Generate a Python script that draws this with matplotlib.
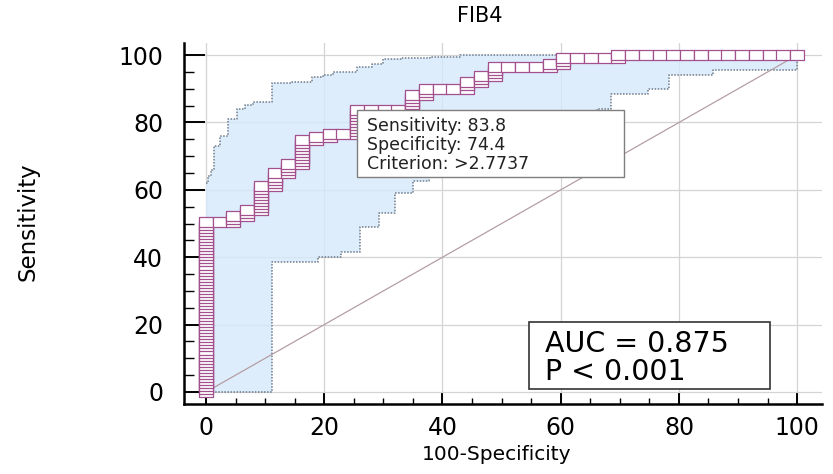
import matplotlib
matplotlib.use('Agg')
import matplotlib.pyplot as plt
from matplotlib import font_manager
from matplotlib.path import Path
from matplotlib.patches import Rectangle

# ROC data for FIB4: 111 positive cases, 43 negative cases
n_pos = 111
n_neg = 43
# cumulative true positives reached at each false-positive count 0..43
tp_top = [56, 56, 58, 60, 68, 72, 75, 83, 84, 85, 85, 93, 93, 93, 93, 98,
          100, 100, 100, 102, 104, 107, 107, 107, 107, 108, 110, 110, 110, 110,
          111, 111, 111, 111, 111, 111, 111, 111, 111, 111, 111, 111, 111, 111]

# confidence band corners (100-Specificity, Sensitivity)
upper_x = [0, 0.4, 0.8, 1.3, 2.4, 3.8, 5.2, 6.6, 8.0, 11.1, 14.5, 17.9, 19.8,
           21.5, 25.5, 28.0, 30.0, 33.0, 37.9, 43.0, 100]
upper_y = [62, 64, 66, 73, 76, 81, 84, 85.2, 86, 91.6, 92.1, 93.6, 94.1,
           95.0, 96.5, 97.5, 98.7, 99.2, 99.5, 100, 100]
lower_x = [0, 11.2, 19.0, 22.8, 26.1, 29.2, 32.0, 35.0, 37.8, 42, 46, 50, 54,
           58, 62, 66.1, 68.5, 74.7, 78.4, 85.8, 100]
lower_y = [0, 38.5, 40, 41.6, 49, 53, 59, 62.6, 64.5, 67, 70, 73, 76,
           79, 82, 84, 88.6, 89.9, 94.1, 95.5, 100]

sens_best = 83.8
spec_best = 74.4
criterion = '>2.7737'
auc = 0.875
p_text = 'P < 0.001'

ticks = [0, 20, 40, 60, 80, 100]


def stairs(xs, ys):
    sx, sy = [], []
    for i in range(len(xs)):
        sx.append(xs[i])
        sy.append(ys[i])
        if i + 1 < len(xs):
            sx.append(xs[i + 1])
            sy.append(ys[i])
    return sx, sy


# points of the ROC curve, one per case
roc_x, roc_y = [], []
prev = 0
for k, top in enumerate(tp_top):
    for t in range(prev, top + 1):
        roc_x.append(100 * k / n_neg)
        roc_y.append(100 * t / n_pos)
    prev = top

names = {f.name for f in font_manager.fontManager.ttflist}
if 'Liberation Sans Narrow' in names:
    ylab_font, ylab_size = 'Liberation Sans Narrow', 19
else:
    ylab_font, ylab_size = 'DejaVu Sans', 16.5

fig = plt.figure(figsize=(8.33, 4.74), dpi=100)
ax = fig.add_axes([0.2209, 0.1477, 0.7659, 0.7616])

# confidence band
lx, ly = stairs(lower_x, lower_y)
ux, uy = stairs(upper_x, upper_y)
poly_x = lx + ux[::-1] + [0]
poly_y = ly + uy[::-1] + [0]
ax.fill(poly_x, poly_y, color='#d6e9fb', alpha=0.8, lw=0, zorder=1)
ax.plot(ux, uy, color='#6d7c8c', lw=1.1, ls=(0, (1, 1)), zorder=2)
ax.plot(lx, ly, color='#6d7c8c', lw=1.1, ls=(0, (1, 1)), zorder=2)

# reference diagonal
ax.plot([0, 100], [0, 100], color='#b49ea4', lw=0.9, zorder=2)

# ROC curve
rect = Path([(-1, -0.69), (1, -0.69), (1, 0.69), (-1, 0.69), (-1, -0.69)], closed=True)
ax.plot(roc_x, roc_y, color='#a2508e', lw=0.8, marker=rect, markersize=9.9,
        markerfacecolor='white', markeredgecolor='#a2508e', markeredgewidth=0.9,
        zorder=3)

ax.set_xlim(-3.72, 104.2)
ax.set_ylim(-3.56, 103.6)
ax.set_xticks(ticks)
ax.set_yticks(ticks)
ax.set_xticks(range(0, 101, 5), minor=True)
ax.set_yticks(range(0, 101, 5), minor=True)
ax.grid(True, which='major', color='#d4d4d4', lw=0.9)
ax.set_axisbelow(True)

for s in ['top', 'right']:
    ax.spines[s].set_visible(False)
for s in ['left', 'bottom']:
    ax.spines[s].set_linewidth(1.8)

ax.tick_params(axis='y', which='major', direction='in', length=15, width=1.4,
               pad=15, labelsize=17)
ax.tick_params(axis='y', which='minor', direction='in', length=7, width=1.0)
ax.tick_params(axis='x', which='major', direction='in', length=8, width=1.4,
               pad=9, labelsize=17)
ax.tick_params(axis='x', which='minor', direction='in', length=4, width=1.0)

# optimal criterion box
ax.add_patch(Rectangle((25.5, 63.8), 45.2, 19.9, facecolor='white',
                       edgecolor='#7f7f7f', lw=1.0, zorder=4))
ax.text(27.3, 81.6,
        'Sensitivity: %.1f\nSpecificity: %.1f\nCriterion: %s' % (sens_best, spec_best, criterion),
        fontsize=12.5, va='top', ha='left', color='#222222', linespacing=1.08, zorder=5)

# AUC box
ax.add_patch(Rectangle((54.7, 0.9), 40.7, 19.9, facecolor='white',
                       edgecolor='#333333', lw=1.2, zorder=4))
ax.text(57.4, 14.3, 'AUC = %.3f' % auc, fontsize=20.5, va='center', ha='left', zorder=5)
ax.text(57.4, 5.8, p_text, fontsize=20.5, va='center', ha='left', zorder=5)

fig.text(480 / 833, 1 - 16 / 474, 'FIB4', fontsize=15, ha='center', va='center')
fig.text(497 / 833, 1 - 455 / 474, '100-Specificity', fontsize=14.5, ha='center', va='center')
fig.text(28 / 833, 1 - 222 / 474, 'Sensitivity', family=[ylab_font, 'DejaVu Sans'],
         fontsize=ylab_size, rotation=90, ha='center', va='center')

fig.savefig('out.png', dpi=100)
